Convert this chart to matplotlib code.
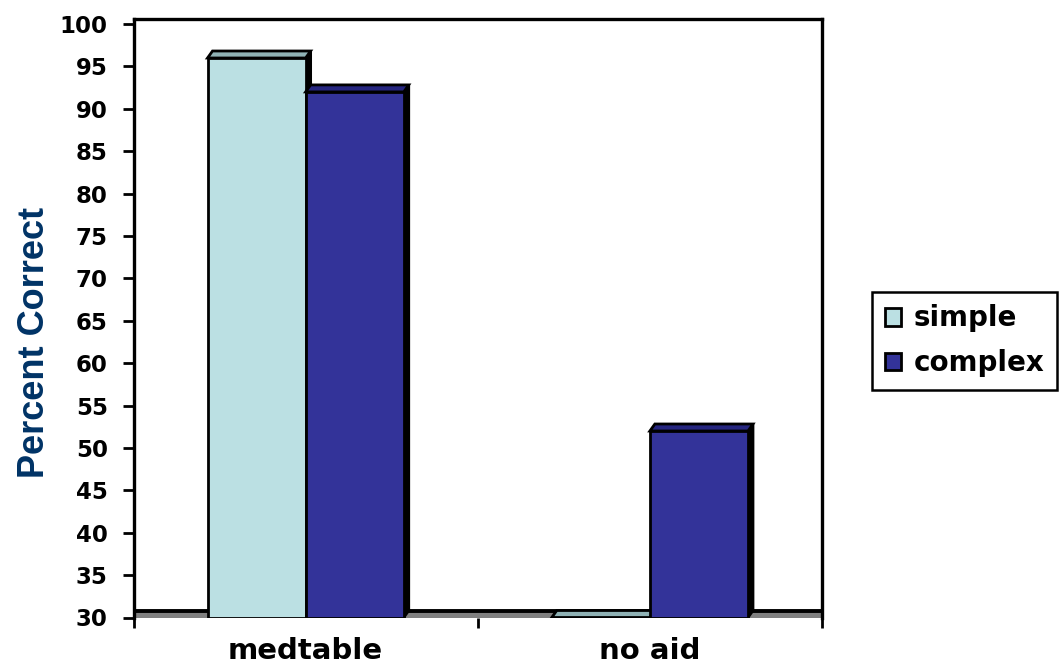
import matplotlib
matplotlib.use("Agg")
import matplotlib.pyplot as plt
from matplotlib.patches import Polygon, Patch, Rectangle
import numpy as np

# Data
categories = ["medtable", "no aid"]
series_names = ["simple", "complex"]
simple_values = [96, 30]
complex_values = [92, 52]
y_ticks = list(range(30, 101, 5))

front_colors = ["#BBE0E3", "#333399"]
top_colors = ["#8FB2B5", "#262680"]
side_color = "#000000"

W, H, DPI = 1064, 667, 100
fig = plt.figure(figsize=(W / DPI, H / DPI), dpi=DPI)
fig.patch.set_facecolor("white")

ax = fig.add_axes([133.5 / W, (H - 617.5) / H, (822 - 133.5) / W, (617.5 - 19) / H])
ymin, ymax = 30, 100.6
ax.set_xlim(-0.5, 1.5)
ax.set_ylim(ymin, ymax)

# pseudo-3D depth, expressed in pixels and converted to data units
depth_px = (5.0, 7.0)
p0 = ax.transData.transform((0, ymin))
inv = ax.transData.inverted()
dxd, dyd = inv.transform(p0 + np.array(depth_px)) - np.array([0, ymin])

# floor
ax.add_patch(Rectangle((-0.5, ymin), 2.0, dyd * 0.8, facecolor="#808080",
                       edgecolor="none", zorder=1, clip_on=True))
ax.plot([-0.5, 1.5], [ymin + dyd, ymin + dyd], color="black", lw=2.8,
        zorder=2, solid_capstyle="butt")

x = np.arange(len(categories))
width = 0.285
offsets = [-width / 2, width / 2]
all_values = [simple_values, complex_values]
edge_lw = 2.0

for ci in range(len(categories)):
    for si, vals in enumerate(all_values):
        v = vals[ci]
        x0 = x[ci] + offsets[si] - width / 2
        x1 = x0 + width
        z = 3 + 2 * si
        # right side face
        side = Polygon([(x1, ymin), (x1 + dxd, ymin + dyd), (x1 + dxd, v + dyd), (x1, v)],
                       closed=True, facecolor=side_color, edgecolor="black",
                       lw=edge_lw, zorder=z, joinstyle="miter")
        ax.add_patch(side)
        # top face
        top = Polygon([(x0, v), (x1, v), (x1 + dxd, v + dyd), (x0 + dxd, v + dyd)],
                      closed=True, facecolor=top_colors[si], edgecolor="black",
                      lw=edge_lw, zorder=z, joinstyle="miter")
        ax.add_patch(top)
        # front face
        ax.bar(x[ci] + offsets[si], v - ymin, width, bottom=ymin,
               color=front_colors[si], edgecolor="black", lw=edge_lw, zorder=z + 1)

# axes styling
for s in ["left", "top", "right"]:
    ax.spines[s].set_linewidth(2.4)
    ax.spines[s].set_color("black")
ax.spines["bottom"].set_visible(False)

tick_font = dict(family="DejaVu Sans", weight="bold", size=16.5)
ax.set_yticks(y_ticks)
ax.set_yticklabels([str(t) for t in y_ticks], fontdict=tick_font)
ax.tick_params(axis="y", length=8, width=2, pad=10.5, color="black")

ax.set_xticks([-0.5, 0.5, 1.5])
ax.set_xticklabels(["", "", ""])
ax.tick_params(axis="x", which="major", length=7.5, width=2, color="black")
ax.set_xticks(x, minor=True)
ax.set_xticklabels(categories, minor=True,
                   fontdict=dict(family="DejaVu Sans", weight="bold", size=21))
ax.tick_params(axis="x", which="minor", length=0, pad=14)

fig.text(35 / W, 1 - 342 / H, "Percent Correct", rotation=90, ha="center",
         va="center", color="#003366", family="Liberation Sans",
         weight="bold", fontsize=26)

handles = [Patch(facecolor=front_colors[i], edgecolor="black", lw=2)
           for i in range(len(series_names))]
leg = fig.legend(handles, series_names, loc="upper left",
                 bbox_to_anchor=(872 / W, 1 - 292 / H),
                 bbox_transform=fig.transFigure, borderaxespad=0,
                 prop=dict(family="DejaVu Sans", weight="bold", size=20),
                 handlelength=0.6, handleheight=0.6, handletextpad=0.45,
                 labelspacing=0.6, borderpad=0.45, fancybox=False,
                 framealpha=1, edgecolor="black")
leg.get_frame().set_linewidth(1.8)

fig.savefig("out.png", dpi=DPI, facecolor="white")
